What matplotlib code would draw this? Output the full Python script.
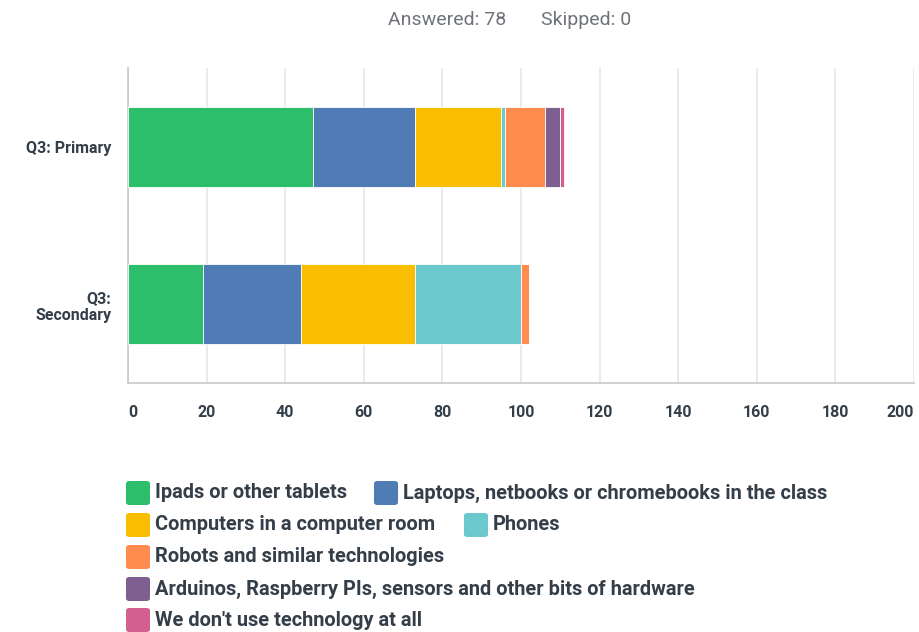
import matplotlib
matplotlib.use("Agg")
import matplotlib.pyplot as plt
from matplotlib.patches import FancyBboxPatch
import numpy as np

plt.rcParams["font.family"] = ["Roboto", "DejaVu Sans"]

# --- data ---
groups = ["Q3: Primary", "Q3:\nSecondary"]
answers = [
    "Ipads or other tablets",
    "Laptops, netbooks or chromebooks in the class",
    "Computers in a computer room",
    "Phones",
    "Robots and similar technologies",
    "Arduinos, Raspberry PIs, sensors and other bits of hardware",
    "We don't use technology at all",
]
primary = [47, 26, 22, 1, 10, 4, 1]
secondary = [19, 25, 29, 27, 2, 0, 0]
x_ticks = [0, 20, 40, 60, 80, 100, 120, 140, 160, 180, 200]
answered = 78
skipped = 0

COLORS = ["#2dbe6c", "#507cb6", "#f9be00", "#6bc8cd", "#ff8b4f", "#7f5f90", "#d25f90"]
INK = "#333e48"
GRID = "#e6e6e6"
AXIS = "#c8c8c8"

W, H = 920, 632
fig = plt.figure(figsize=(W / 100, H / 100), dpi=100)
ax = fig.add_axes([128 / W, 1 - 383 / H, (914 - 128) / W, (383 - 68) / H])

values = np.array([primary, secondary])
ypos = np.arange(len(groups))
left = np.zeros(len(groups))
for k in range(len(answers)):
    ax.barh(ypos, values[:, k], left=left, height=0.51, color=COLORS[k],
            edgecolor="white", linewidth=0.6, zorder=3)
    left += values[:, k]

ax.set_xlim(0, 200)
ax.set_ylim(len(groups) - 0.5, -0.5)
ax.set_xticks(x_ticks)
ax.set_xticklabels([str(t) for t in x_ticks], fontsize=11.5, fontweight="bold",
                   color=INK)
labels = ax.get_xticklabels()
labels[0].set_ha("left")
labels[-1].set_ha("right")
ax.set_yticks(ypos)
ax.set_yticklabels(groups, fontsize=11.5, fontweight="bold", color=INK,
                   ha="right", multialignment="right")
ax.tick_params(axis="both", length=0)
ax.tick_params(axis="x", pad=16)
ax.tick_params(axis="y", pad=12)
ax.grid(axis="x", color=GRID, lw=1.2, zorder=0)
for s in ["top", "right"]:
    ax.spines[s].set_visible(False)
ax.spines["left"].set_color(AXIS)
ax.spines["bottom"].set_color(AXIS)
ax.spines["left"].set_linewidth(1.2)
ax.spines["bottom"].set_linewidth(1.2)

# header
fig.text(388 / W, 1 - 20 / H, f"Answered: {answered}", fontsize=14,
         color="#6f7378", ha="left", va="center")
fig.text(541 / W, 1 - 20 / H, f"Skipped: {skipped}", fontsize=14,
         color="#6f7378", ha="left", va="center")

# legend laid out like the survey tool's
layout = [(0, 126, 493), (1, 374, 493), (2, 126, 525), (3, 464, 525),
          (4, 126, 557), (5, 126, 589), (6, 126, 620)]
sw = 24
for k, px, py in layout:
    fig.patches.append(FancyBboxPatch(((px) / W, 1 - (py + sw / 2) / H), sw / W, sw / H,
                       boxstyle="round,pad=0,rounding_size=0.004",
                       transform=fig.transFigure, facecolor=COLORS[k],
                       edgecolor="none"))
    fig.text((px + sw + 5) / W, 1 - py / H, answers[k], fontsize=14.4,
             fontweight="bold", color=INK, ha="left", va="center")

fig.savefig("out.png", dpi=100, facecolor="white")
